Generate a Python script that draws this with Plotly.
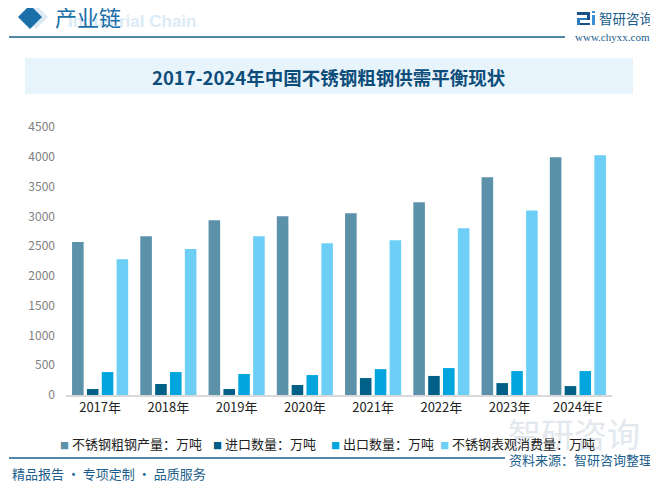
import plotly.graph_objects as go

years = ["2017年", "2018年", "2019年", "2020年", "2021年", "2022年", "2023年", "2024年E"]
production = [2570, 2665, 2935, 3000, 3050, 3235, 3655, 3990]
imports = [100, 185, 100, 168, 285, 320, 200, 150]
exports = [385, 385, 352, 335, 435, 452, 402, 402]
consumption = [2280, 2450, 2665, 2550, 2600, 2800, 3100, 4025]

names = ["不锈钢粗钢产量：万吨", "进口数量：万吨", "出口数量：万吨", "不锈钢表观消费量：万吨"]
colors = ["#5B91A9", "#006087", "#02A5DD", "#6DCFF6"]
values = [production, imports, exports, consumption]

# page body has an 8px default margin: build the figure 8px smaller and shifted
OFF = 8
W, H = 658 - OFF, 486 - OFF
PL, PR, PT, PB = 66, 612, 127, 395          # plot area in window pixels
L, R = PL - OFF, W - (PR - OFF)
T, B = PT - OFF, H - (PB - OFF)
PW, PH = PR - PL, PB - PT


def px(x):
    return (x - PL) / PW


def py(y):
    return (PB - y) / PH


fig = go.Figure()
for name, vals, color in zip(names, values, colors):
    fig.add_trace(go.Bar(x=years, y=vals, name=name, marker_color=color,
                         marker_line_width=0, showlegend=False))

font_cjk = "Noto Sans CJK SC, Microsoft YaHei, sans-serif"
blue = "#1B5E8C"

fig.update_layout(
    width=W, height=H,
    paper_bgcolor="white", plot_bgcolor="white",
    margin=dict(l=L, r=R, t=T, b=B, pad=0),
    barmode="group", bargap=0.13, bargroupgap=0.22,
    font=dict(family=font_cjk, size=12, color="#333333"),
    xaxis=dict(showgrid=False, showline=True, linecolor="#D9D9D9", linewidth=1.5,
               ticks="", tickfont=dict(size=13, color="#222222")),
    yaxis=dict(range=[0, 4500], dtick=500, showgrid=False, zeroline=False,
               showline=False, tickfont=dict(size=12, color="#7F7F7F"),
               ticks="", ticklabelstandoff=10),
)


def rect(x0, y0, x1, y1, color, layer="above"):
    return dict(type="rect", xref="paper", yref="paper",
                x0=px(x0), x1=px(x1), y0=py(y1), y1=py(y0),
                fillcolor=color, line=dict(width=0), layer=layer)


def hline(x0, x1, y, color, width=1.5):
    return dict(type="line", xref="paper", yref="paper",
                x0=px(x0), x1=px(x1), y0=py(y), y1=py(y),
                line=dict(color=color, width=width))


def diamond(cx, cy, r, color):
    pts = [(cx - r, cy), (cx, cy - r), (cx + r, cy), (cx, cy + r)]
    path = "M " + " L ".join(f"{px(a):.4f} {py(b):.4f}" for a, b in pts) + " Z"
    return dict(type="path", xref="paper", yref="paper", path=path,
                fillcolor=color, line=dict(width=0))


shapes = [
    hline(9, 565, 37, blue),
    rect(25, 58, 633, 94, "#E8F4FC", layer="below"),
    hline(9, 505, 458, blue),
    diamond(36, 17, 12, "#DCEAF4"),
    diamond(30, 17, 12, "#1A6FA8"),
    # logo icon
    rect(577, 12, 590, 15, "#1B4F8C"),
    rect(587, 12, 590, 20, "#1B4F8C"),
    rect(577, 18, 587, 20, "#2A7CC0"),
    rect(577, 18, 580, 25, "#2A7CC0"),
    rect(580, 23, 590, 25, "#1B4F8C"),
    rect(592, 15, 595, 25, "#3A8FD6"),
    rect(592, 11, 595, 13, "#3A8FD6"),
]
fig.update_layout(shapes=shapes)


def ann(text, x, y, size, color, xanchor="left", family=font_cjk):
    return dict(text=text, x=px(x), y=py(y), xref="paper", yref="paper",
                showarrow=False, xanchor=xanchor, yanchor="middle",
                font=dict(size=size, color=color, family=family))


annotations = [
    ann("<b>Industrial Chain</b>", 66, 21, 17, "#DCEBF6", family="Liberation Sans, Arial"),
    ann("产业链", 53, 16, 22, "#1A6FA8"),
    ann("智研咨询", 597, 18, 13.5, blue),
    ann("www.chyxx.com", 573, 37, 11, blue, family="Liberation Serif, serif"),
    ann("<b>2017-2024年中国不锈钢粗钢供需平衡现状</b>", 329, 77, 18.5, "#0E4D7A",
        xanchor="center"),
    ann("智研咨询", 642, 433, 33, "#E3E8EE", xanchor="right"),
    ann("资料来源：智研咨询整理", 654, 459, 13, blue, xanchor="right"),
    ann("精品报告 · 专项定制 · 品质服务", 10, 473, 13, blue),
]

legend_x = [58, 211, 329, 438]
for name, color, lx in zip(names, colors, legend_x):
    annotations.append(
        ann(f"<span style='color:{color};font-size:9px'>■</span> {name}", lx, 443, 13, "#222222"))

fig.update_layout(annotations=annotations)

fig.write_html("out.html")
